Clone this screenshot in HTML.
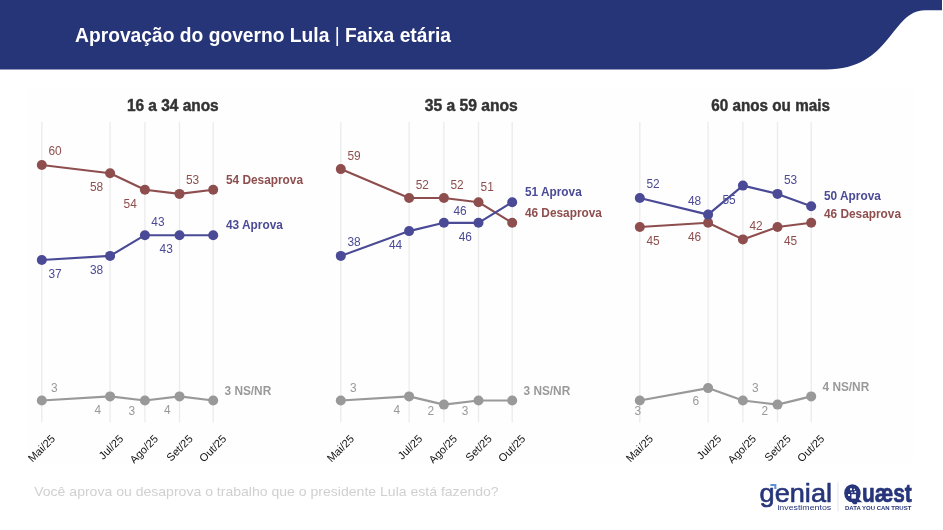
<!DOCTYPE html>
<html lang="pt-BR">
<head>
<meta charset="utf-8">
<title>Aprovação do governo Lula | Faixa etária</title>
<style>
html,body{margin:0;padding:0;background:#fff;}
body{width:943px;height:530px;overflow:hidden;font-family:"Liberation Sans",sans-serif;}
svg{display:block;}
text{font-family:"Liberation Sans",sans-serif;}
.lab{font-size:11.9px;text-anchor:middle;}
.end{font-size:11.85px;font-weight:bold;text-anchor:start;}
.tick{font-size:11.0px;fill:#111;text-anchor:end;}
.ptitle{font-size:16px;font-weight:bold;fill:#333;stroke:#333;stroke-width:0.45px;text-anchor:middle;}
</style>
</head>
<body>
<svg width="943" height="530" viewBox="0 0 943 530">

<path d="M0,0 H942 V10.2 H925 C890.6,10.2 891.9,69.4 826,69.4 H0 Z" fill="#263478"/>
<text x="75" y="42.2" font-size="19.6" font-weight="bold" fill="#fff" textLength="376" lengthAdjust="spacingAndGlyphs">Aprovação do governo Lula <tspan font-weight="normal">|</tspan> Faixa etária</text>
<defs><clipPath id="plotclip"><rect x="28" y="88" width="884.7" height="375.5"/></clipPath></defs><rect x="28" y="88" width="884.7" height="375.5" fill="#fefefe"/>
<g clip-path="url(#plotclip)">
<text class="ptitle" x="172.8" y="111.2" textLength="91.8" lengthAdjust="spacingAndGlyphs">16 a 34 anos</text>
<line x1="41.8" x2="41.8" y1="122" y2="422.5" stroke="#ebebeb" stroke-width="1.3"/>
<line x1="110.1" x2="110.1" y1="122" y2="422.5" stroke="#ebebeb" stroke-width="1.3"/>
<line x1="144.9" x2="144.9" y1="122" y2="422.5" stroke="#ebebeb" stroke-width="1.3"/>
<line x1="179.5" x2="179.5" y1="122" y2="422.5" stroke="#ebebeb" stroke-width="1.3"/>
<line x1="213.2" x2="213.2" y1="122" y2="422.5" stroke="#ebebeb" stroke-width="1.3"/>
<polyline fill="none" stroke="#999999" stroke-width="2.15" stroke-linejoin="round" points="41.8,400.5 110.1,396.4 144.9,400.5 179.5,396.4 213.2,400.5"/>
<circle cx="41.8" cy="400.5" r="5" fill="#999999"/>
<circle cx="110.1" cy="396.4" r="5" fill="#999999"/>
<circle cx="144.9" cy="400.5" r="5" fill="#999999"/>
<circle cx="179.5" cy="396.4" r="5" fill="#999999"/>
<circle cx="213.2" cy="400.5" r="5" fill="#999999"/>
<polyline fill="none" stroke="#8e4e4e" stroke-width="2.15" stroke-linejoin="round" points="41.8,165.0 110.1,173.2 144.9,189.8 179.5,193.9 213.2,189.8"/>
<circle cx="41.8" cy="165.0" r="5" fill="#8e4e4e"/>
<circle cx="110.1" cy="173.2" r="5" fill="#8e4e4e"/>
<circle cx="144.9" cy="189.8" r="5" fill="#8e4e4e"/>
<circle cx="179.5" cy="193.9" r="5" fill="#8e4e4e"/>
<circle cx="213.2" cy="189.8" r="5" fill="#8e4e4e"/>
<polyline fill="none" stroke="#4a4a96" stroke-width="2.15" stroke-linejoin="round" points="41.8,260.0 110.1,255.9 144.9,235.2 179.5,235.2 213.2,235.2"/>
<circle cx="41.8" cy="260.0" r="5" fill="#4a4a96"/>
<circle cx="110.1" cy="255.9" r="5" fill="#4a4a96"/>
<circle cx="144.9" cy="235.2" r="5" fill="#4a4a96"/>
<circle cx="179.5" cy="235.2" r="5" fill="#4a4a96"/>
<circle cx="213.2" cy="235.2" r="5" fill="#4a4a96"/>
<text class="tick" transform="translate(55.8,439.5) rotate(-45)">Mai/25</text>
<text class="tick" transform="translate(124.1,439.5) rotate(-45)">Jul/25</text>
<text class="tick" transform="translate(158.9,439.5) rotate(-45)">Ago/25</text>
<text class="tick" transform="translate(193.5,439.5) rotate(-45)">Set/25</text>
<text class="tick" transform="translate(227.2,439.5) rotate(-45)">Out/25</text>
</g>
<g clip-path="url(#plotclip)">
<text class="ptitle" x="471.3" y="111.2" textLength="93.0" lengthAdjust="spacingAndGlyphs">35 a 59 anos</text>
<line x1="340.8" x2="340.8" y1="122" y2="422.5" stroke="#ebebeb" stroke-width="1.3"/>
<line x1="409.1" x2="409.1" y1="122" y2="422.5" stroke="#ebebeb" stroke-width="1.3"/>
<line x1="443.9" x2="443.9" y1="122" y2="422.5" stroke="#ebebeb" stroke-width="1.3"/>
<line x1="478.5" x2="478.5" y1="122" y2="422.5" stroke="#ebebeb" stroke-width="1.3"/>
<line x1="512.2" x2="512.2" y1="122" y2="422.5" stroke="#ebebeb" stroke-width="1.3"/>
<polyline fill="none" stroke="#999999" stroke-width="2.15" stroke-linejoin="round" points="340.8,400.5 409.1,396.4 443.9,404.6 478.5,400.5 512.2,400.5"/>
<circle cx="340.8" cy="400.5" r="5" fill="#999999"/>
<circle cx="409.1" cy="396.4" r="5" fill="#999999"/>
<circle cx="443.9" cy="404.6" r="5" fill="#999999"/>
<circle cx="478.5" cy="400.5" r="5" fill="#999999"/>
<circle cx="512.2" cy="400.5" r="5" fill="#999999"/>
<polyline fill="none" stroke="#8e4e4e" stroke-width="2.15" stroke-linejoin="round" points="340.8,169.1 409.1,198.0 443.9,198.0 478.5,202.2 512.2,222.8"/>
<circle cx="340.8" cy="169.1" r="5" fill="#8e4e4e"/>
<circle cx="409.1" cy="198.0" r="5" fill="#8e4e4e"/>
<circle cx="443.9" cy="198.0" r="5" fill="#8e4e4e"/>
<circle cx="478.5" cy="202.2" r="5" fill="#8e4e4e"/>
<circle cx="512.2" cy="222.8" r="5" fill="#8e4e4e"/>
<polyline fill="none" stroke="#4a4a96" stroke-width="2.15" stroke-linejoin="round" points="340.8,255.9 409.1,231.1 443.9,222.8 478.5,222.8 512.2,202.2"/>
<circle cx="340.8" cy="255.9" r="5" fill="#4a4a96"/>
<circle cx="409.1" cy="231.1" r="5" fill="#4a4a96"/>
<circle cx="443.9" cy="222.8" r="5" fill="#4a4a96"/>
<circle cx="478.5" cy="222.8" r="5" fill="#4a4a96"/>
<circle cx="512.2" cy="202.2" r="5" fill="#4a4a96"/>
<text class="tick" transform="translate(354.8,439.5) rotate(-45)">Mai/25</text>
<text class="tick" transform="translate(423.1,439.5) rotate(-45)">Jul/25</text>
<text class="tick" transform="translate(457.9,439.5) rotate(-45)">Ago/25</text>
<text class="tick" transform="translate(492.5,439.5) rotate(-45)">Set/25</text>
<text class="tick" transform="translate(526.2,439.5) rotate(-45)">Out/25</text>
</g>
<g clip-path="url(#plotclip)">
<text class="ptitle" x="770.6" y="111.2" textLength="118.6" lengthAdjust="spacingAndGlyphs">60 anos ou mais</text>
<line x1="639.8" x2="639.8" y1="122" y2="422.5" stroke="#ebebeb" stroke-width="1.3"/>
<line x1="708.1" x2="708.1" y1="122" y2="422.5" stroke="#ebebeb" stroke-width="1.3"/>
<line x1="742.9" x2="742.9" y1="122" y2="422.5" stroke="#ebebeb" stroke-width="1.3"/>
<line x1="777.5" x2="777.5" y1="122" y2="422.5" stroke="#ebebeb" stroke-width="1.3"/>
<line x1="811.2" x2="811.2" y1="122" y2="422.5" stroke="#ebebeb" stroke-width="1.3"/>
<polyline fill="none" stroke="#999999" stroke-width="2.15" stroke-linejoin="round" points="639.8,400.5 708.1,388.1 742.9,400.5 777.5,404.6 811.2,396.4"/>
<circle cx="639.8" cy="400.5" r="5" fill="#999999"/>
<circle cx="708.1" cy="388.1" r="5" fill="#999999"/>
<circle cx="742.9" cy="400.5" r="5" fill="#999999"/>
<circle cx="777.5" cy="404.6" r="5" fill="#999999"/>
<circle cx="811.2" cy="396.4" r="5" fill="#999999"/>
<polyline fill="none" stroke="#8e4e4e" stroke-width="2.15" stroke-linejoin="round" points="639.8,227.0 708.1,222.8 742.9,239.4 777.5,227.0 811.2,222.8"/>
<circle cx="639.8" cy="227.0" r="5" fill="#8e4e4e"/>
<circle cx="708.1" cy="222.8" r="5" fill="#8e4e4e"/>
<circle cx="742.9" cy="239.4" r="5" fill="#8e4e4e"/>
<circle cx="777.5" cy="227.0" r="5" fill="#8e4e4e"/>
<circle cx="811.2" cy="222.8" r="5" fill="#8e4e4e"/>
<polyline fill="none" stroke="#4a4a96" stroke-width="2.15" stroke-linejoin="round" points="639.8,198.0 708.1,214.6 742.9,185.6 777.5,193.9 811.2,206.3"/>
<circle cx="639.8" cy="198.0" r="5" fill="#4a4a96"/>
<circle cx="708.1" cy="214.6" r="5" fill="#4a4a96"/>
<circle cx="742.9" cy="185.6" r="5" fill="#4a4a96"/>
<circle cx="777.5" cy="193.9" r="5" fill="#4a4a96"/>
<circle cx="811.2" cy="206.3" r="5" fill="#4a4a96"/>
<text class="tick" transform="translate(653.8,439.5) rotate(-45)">Mai/25</text>
<text class="tick" transform="translate(722.1,439.5) rotate(-45)">Jul/25</text>
<text class="tick" transform="translate(756.9,439.5) rotate(-45)">Ago/25</text>
<text class="tick" transform="translate(791.5,439.5) rotate(-45)">Set/25</text>
<text class="tick" transform="translate(825.2,439.5) rotate(-45)">Out/25</text>
</g>
<text class="lab" x="55.1" y="154.8" fill="#8e4e4e">60</text>
<text class="lab" x="96.6" y="191.3" fill="#8e4e4e">58</text>
<text class="lab" x="130.2" y="207.7" fill="#8e4e4e">54</text>
<text class="lab" x="192.5" y="184.4" fill="#8e4e4e">53</text>
<text class="lab" x="55.1" y="277.6" fill="#4a4a96">37</text>
<text class="lab" x="96.6" y="273.8" fill="#4a4a96">38</text>
<text class="lab" x="157.9" y="225.6" fill="#4a4a96">43</text>
<text class="lab" x="166.2" y="253.0" fill="#4a4a96">43</text>
<text class="lab" x="54.4" y="391.5" fill="#999999">3</text>
<text class="lab" x="97.9" y="414.3" fill="#999999">4</text>
<text class="lab" x="131.9" y="415.3" fill="#999999">3</text>
<text class="lab" x="167.4" y="414.3" fill="#999999">4</text>
<text class="lab" x="354.0" y="159.5" fill="#8e4e4e">59</text>
<text class="lab" x="422.3" y="188.5" fill="#8e4e4e">52</text>
<text class="lab" x="457.0" y="188.5" fill="#8e4e4e">52</text>
<text class="lab" x="487.2" y="191.0" fill="#8e4e4e">51</text>
<text class="lab" x="354.0" y="245.9" fill="#4a4a96">38</text>
<text class="lab" x="395.5" y="248.9" fill="#4a4a96">44</text>
<text class="lab" x="460.0" y="214.6" fill="#4a4a96">46</text>
<text class="lab" x="465.3" y="241.0" fill="#4a4a96">46</text>
<text class="lab" x="353.3" y="391.5" fill="#999999">3</text>
<text class="lab" x="396.8" y="414.3" fill="#999999">4</text>
<text class="lab" x="430.8" y="415.3" fill="#999999">2</text>
<text class="lab" x="465.1" y="415.3" fill="#999999">3</text>
<text class="lab" x="653.0" y="188.3" fill="#4a4a96">52</text>
<text class="lab" x="694.5" y="205.3" fill="#4a4a96">48</text>
<text class="lab" x="729.0" y="204.3" fill="#4a4a96">55</text>
<text class="lab" x="790.5" y="184.3" fill="#4a4a96">53</text>
<text class="lab" x="653.0" y="245.3" fill="#8e4e4e">45</text>
<text class="lab" x="694.5" y="240.7" fill="#8e4e4e">46</text>
<text class="lab" x="756.0" y="230.3" fill="#8e4e4e">42</text>
<text class="lab" x="790.5" y="245.3" fill="#8e4e4e">45</text>
<text class="lab" x="637.8" y="415.3" fill="#999999">3</text>
<text class="lab" x="695.9" y="405.3" fill="#999999">6</text>
<text class="lab" x="755.4" y="391.5" fill="#999999">3</text>
<text class="lab" x="764.9" y="415.3" fill="#999999">2</text>
<text class="end" x="226.0" y="184.3" fill="#8e4e4e">54 Desaprova</text>
<text class="end" x="226.0" y="229.1" fill="#4a4a96">43 Aprova</text>
<text class="end" x="224.5" y="395.2" fill="#999999">3 NS/NR</text>
<text class="end" x="524.9" y="196.4" fill="#4a4a96">51 Aprova</text>
<text class="end" x="524.9" y="216.8" fill="#8e4e4e">46 Desaprova</text>
<text class="end" x="523.5" y="395.2" fill="#999999">3 NS/NR</text>
<text class="end" x="824.0" y="200.3" fill="#4a4a96">50 Aprova</text>
<text class="end" x="824.0" y="218.3" fill="#8e4e4e">46 Desaprova</text>
<text class="end" x="822.5" y="391.2" fill="#999999">4 NS/NR</text>
<text x="34.2" y="496" font-size="13.3" fill="#d0d0d0" textLength="464.5" lengthAdjust="spacingAndGlyphs">Você aprova ou desaprova o trabalho que o presidente Lula está fazendo?</text>
<g fill="#27357a">
<text x="759.6" y="502.4" font-size="25.6" textLength="72.4" lengthAdjust="spacingAndGlyphs" stroke="#27357a" stroke-width="0.6">genial</text>
<path d="M770.4,483.9 H776.4 V489 H774.3 V486 H770.4 Z" fill="#5b92dc"/>
<text x="777.4" y="510.1" font-size="8" textLength="53.8" lengthAdjust="spacingAndGlyphs">investimentos</text>
<rect x="837.5" y="482.3" width="0.9" height="29" fill="#dde1ee"/>
<text transform="scale(0.815,1)" font-weight="bold" stroke="#27357a" stroke-width="0.7"><tspan x="1038.53" y="499.8" font-size="19">Q</tspan><tspan x="1057.67" y="502.3" font-size="25.6">uæst</tspan></text>
<ellipse cx="852.4" cy="493.25" rx="8.2" ry="9.05"/>
<path d="M857,497.5 L862.3,502.2 H855 Z"/>
<g fill="#fff"><rect x="851.5" y="494.2" width="4.4" height="4.4"/><rect x="850" y="488.3" width="2" height="2"/><rect x="853.7" y="488.8" width="1.3" height="1.3"/><rect x="854.5" y="491" width="1.7" height="1.7"/><rect x="848.1" y="494" width="1.9" height="2"/><rect x="851.3" y="491.8" width="1.2" height="1.2"/></g>
<text x="845" y="510.3" font-size="5.5" font-weight="bold" textLength="66.3" lengthAdjust="spacingAndGlyphs">DATA YOU CAN TRUST</text>
</g>
</svg>
</body>
</html>
